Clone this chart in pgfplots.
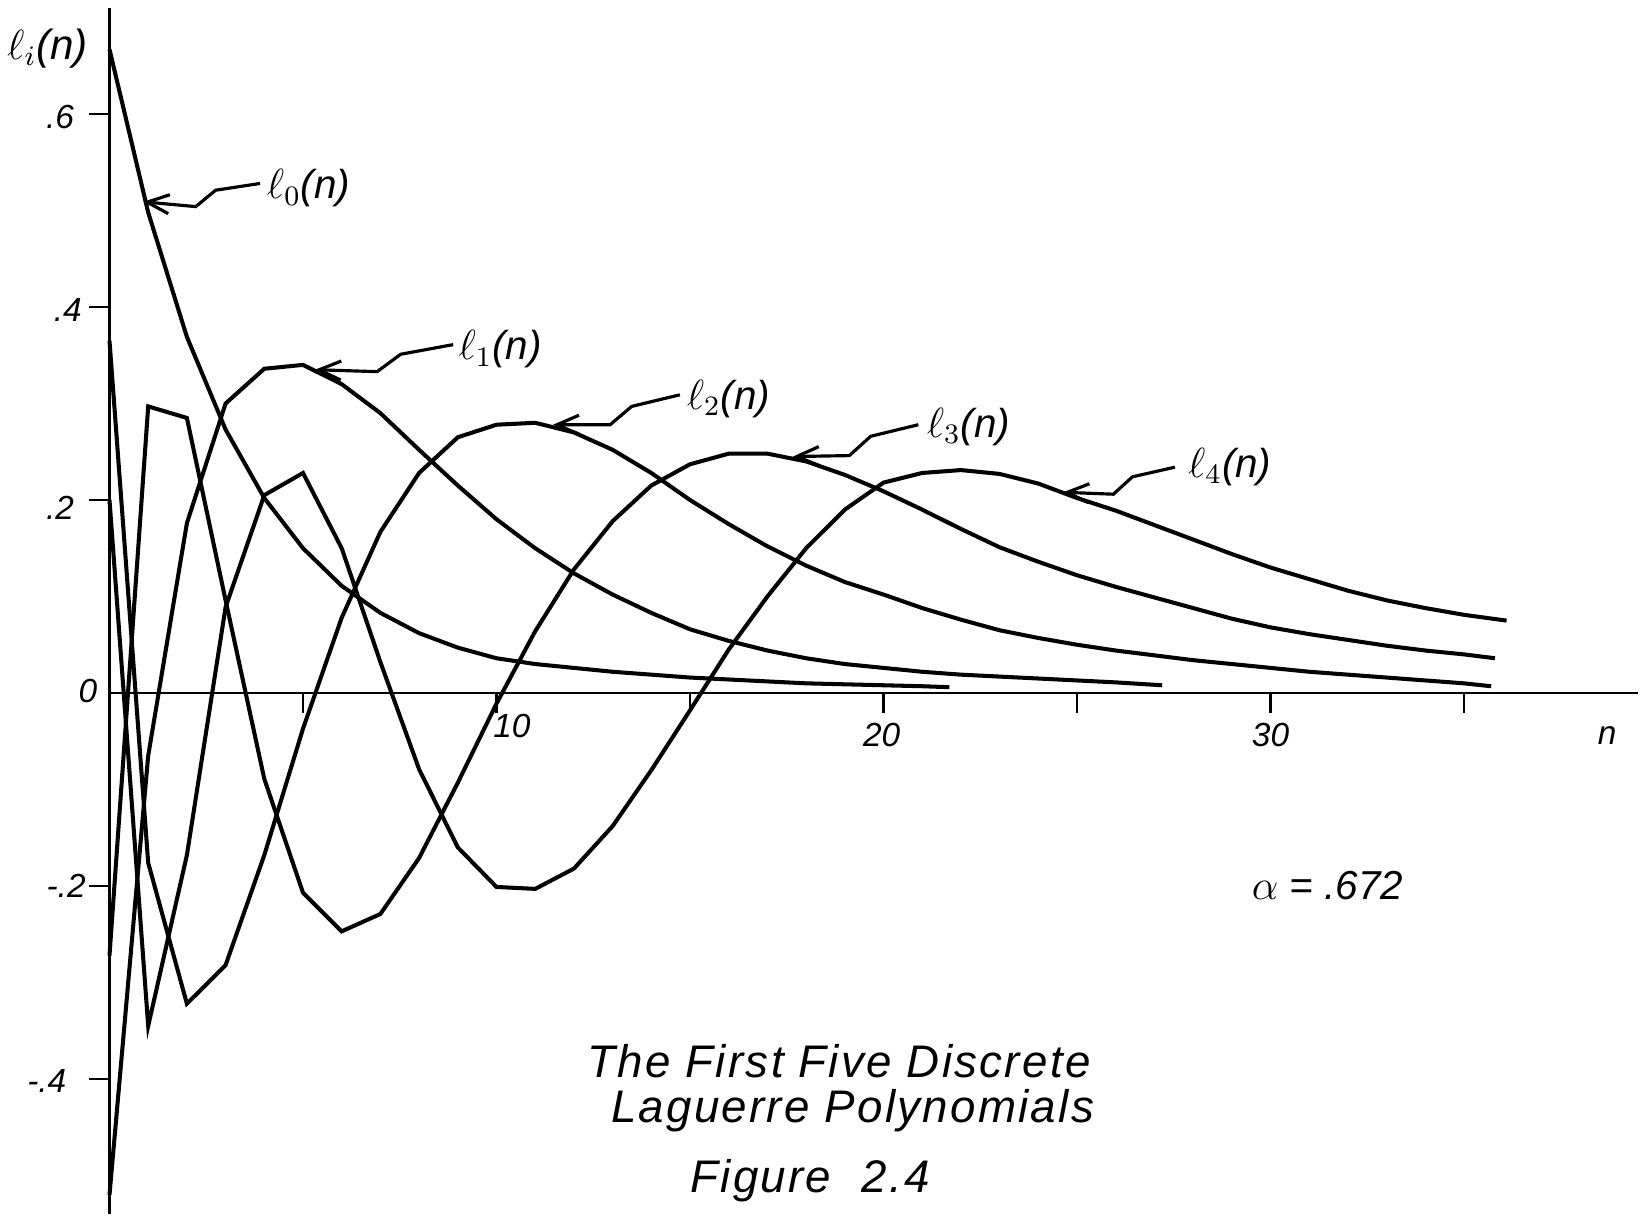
\documentclass[border=0pt]{standalone}
\usepackage{fontspec}
\setmainfont{Liberation Sans}
\usepackage{pgfplots}
\pgfplotsset{compat=1.18}
\usetikzlibrary{arrows.meta}

\begin{document}
\begin{tikzpicture}
\path[use as bounding box] (0,0) rectangle (164.6mm,121.6mm);
\begin{axis}[
  at={(10.95mm,0.19mm)}, anchor=south west,
  x=3.87mm, y=96.5mm,
  xmin=0, xmax=39.5, ymin=-0.54, ymax=0.71,
  axis lines=middle,
  axis line style={-, line width=0.8pt},
  xtick={5,10,...,35},
  ytick={-0.4,-0.2,0.2,0.4,0.6},
  xticklabels={}, yticklabels={},
  tick align=outside,
  major tick length=2mm,
  tick style={line width=0.8pt, black},
  clip=false,
]
% l_0(n)
\addplot[black, line width=1.15pt, mark=none] coordinates {(0,0.667) (1,0.498) (2,0.369) (3,0.273) (4,0.202) (5,0.150)
 (6,0.111) (7,0.083) (8,0.062) (9,0.047) (10,0.036) (11,0.030) (12,0.026) (13,0.022)
 (14,0.019) (15,0.016) (16,0.014) (17,0.012) (18,0.010) (19,0.009) (20,0.008)
 (21,0.007) (21.7,0.006)};
% l_1(n)
\addplot[black, line width=1.15pt, mark=none] coordinates {(0,-0.520) (1,-0.065) (2,0.176) (3,0.300) (4,0.336) (5,0.340)
 (6,0.320) (7,0.290) (8,0.252) (9,0.215) (10,0.180) (11,0.150) (12,0.124) (13,0.102)
 (14,0.083) (15,0.066) (16,0.054) (17,0.044) (18,0.036) (19,0.030) (20,0.026)
 (21,0.022) (22,0.019) (23,0.017) (24,0.015) (25,0.013) (26,0.011) (27.2,0.008)};
% l_2(n)
\addplot[black, line width=1.15pt, mark=none] coordinates {(0,0.365) (1,-0.176) (2,-0.322) (3,-0.282) (4,-0.168) (5,-0.037)
 (6,0.078) (7,0.167) (8,0.228) (9,0.265) (10,0.278) (11,0.280) (12,0.270) (13,0.252)
 (14,0.228) (15,0.200) (16,0.175) (17,0.152) (18,0.132) (19,0.115) (20,0.102)
 (21,0.088) (22,0.076) (23,0.065) (24,0.057) (25,0.050) (26,0.044) (27,0.039)
 (28,0.034) (29,0.030) (30,0.026) (31,0.022) (32,0.019) (33,0.016) (34,0.013)
 (35,0.010) (35.7,0.007)};
% l_3(n)
\addplot[black, line width=1.15pt, mark=none] coordinates {(0,-0.272) (1,0.297) (2,0.285) (3,0.096) (4,-0.089) (5,-0.207)
 (6,-0.247) (7,-0.229) (8,-0.171) (9,-0.093) (10,-0.011) (11,0.064) (12,0.128)
 (13,0.178) (14,0.215) (15,0.237) (16,0.248) (17,0.248) (18,0.240) (19,0.226)
 (20,0.209) (21,0.190) (22,0.170) (23,0.151) (24,0.136) (25,0.122) (26,0.110)
 (27,0.099) (28,0.088) (29,0.077) (30,0.068) (31,0.061) (32,0.055) (33,0.049)
 (34,0.044) (35,0.040) (35.8,0.036)};
% l_4(n)
\addplot[black, line width=1.15pt, mark=none] coordinates {(0,0.200) (1,-0.345) (2,-0.168) (3,0.089) (4,0.205) (5,0.228)
 (6,0.150) (7,0.032) (8,-0.079) (9,-0.160) (10,-0.201) (11,-0.203) (12,-0.182)
 (13,-0.138) (14,-0.080) (15,-0.018) (16,0.045) (17,0.100) (18,0.150) (19,0.190)
 (20,0.218) (21,0.228) (22,0.231) (23,0.227) (24,0.217) (25,0.202) (26,0.189)
 (27,0.174) (28,0.159) (29,0.144) (30,0.130) (31,0.118) (32,0.106) (33,0.096)
 (34,0.088) (35,0.081) (36.1,0.075)};

% tick labels, lettered by hand in the original
\begin{scope}[every node/.style={font=\itshape\fontsize{9.5}{11}\selectfont, inner sep=0pt}]
\node[anchor=east] at (axis cs:-0.9,0.597) {.6};
\node[anchor=east] at (axis cs:-0.7,0.397) {.4};
\node[anchor=east] at (axis cs:-0.9,0.192) {.2};
\node[anchor=east] at (axis cs:-0.3,0.002) {0};
\node[anchor=east] at (axis cs:-0.6,-0.200) {-.2};
\node[anchor=east] at (axis cs:-1.1,-0.402) {-.4};
\node at (axis cs:10.4,-0.034) {10};
\node at (axis cs:19.95,-0.044) {20};
\node at (axis cs:30.0,-0.044) {30};
\node at (axis cs:38.7,-0.044) {n};
\end{scope}
\node[font=\itshape\fontsize{12}{14}\selectfont, inner sep=0pt] at (axis cs:-1.6,0.668) {$\ell_i$(n)};

% curve names
\begin{scope}[every node/.style={font=\itshape\fontsize{11.5}{13}\selectfont, inner sep=0pt, anchor=west}]
\node at (axis cs:4.05,0.523) {$\ell_0$(n)};
\node at (axis cs:9.0,0.356) {$\ell_1$(n)};
\node at (axis cs:14.9,0.305) {$\ell_2$(n)};
\node at (axis cs:21.1,0.276) {$\ell_3$(n)};
\node at (axis cs:27.85,0.234) {$\ell_4$(n)};
\end{scope}
% leaders with a lightning jog, from each name to its curve
\begin{scope}[line width=0.9pt, -{Straight Barb[length=2.2mm,width=1.9mm]}]
\draw (axis cs:3.89,0.528) -- (axis cs:2.742,0.521) -- (axis cs:2.229,0.504) -- (axis cs:0.87,0.509);
\draw (axis cs:8.88,0.361) -- (axis cs:7.523,0.351) -- (axis cs:6.916,0.333) -- (axis cs:5.31,0.335);
\draw (axis cs:14.74,0.309) -- (axis cs:13.494,0.297) -- (axis cs:12.936,0.278) -- (axis cs:11.46,0.278);
\draw (axis cs:20.9,0.278) -- (axis cs:19.669,0.266) -- (axis cs:19.118,0.246) -- (axis cs:17.66,0.245);
\draw (axis cs:27.53,0.234) -- (axis cs:26.432,0.224) -- (axis cs:25.94,0.206) -- (axis cs:24.64,0.208);
\end{scope}

\node[font=\itshape\fontsize{11.5}{13}\selectfont, anchor=west, inner sep=0pt]
  at (axis cs:29.5,-0.200) {$\alpha$ = .672};

% caption
\begin{scope}[every node/.style={font=\itshape\fontsize{13}{15}\selectfont\addfontfeature{LetterSpace=5}, inner sep=0pt}]
\node at (axis cs:18.85,-0.382) {The First Five Discrete};
\node at (axis cs:19.2,-0.433) {Laguerre Polynomials};
\node at (axis cs:18.1,-0.505) {Figure\ \ 2.4};
\end{scope}
\end{axis}
\end{tikzpicture}
\end{document}
